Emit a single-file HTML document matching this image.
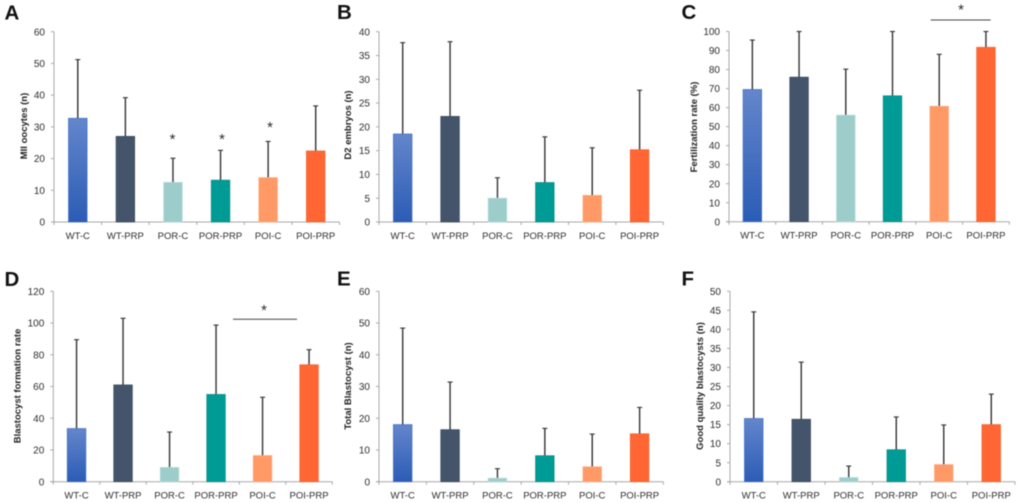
<!DOCTYPE html>
<html lang="en">
<head>
<meta charset="utf-8">
<title>Outcome bar charts</title>
<style>
html,body{margin:0;padding:0;background:#fff;width:1020px;height:503px;overflow:hidden}
svg{display:block;filter:blur(0.4px)}
text{font-family:"Liberation Sans",sans-serif}
</style>
</head>
<body>
<svg id="figure" xmlns="http://www.w3.org/2000/svg" width="1020" height="503" viewBox="0 0 1020 503">
<defs>
<linearGradient id="blueGrad" x1="0" y1="0" x2="0" y2="1">
<stop offset="0" stop-color="#6486cb"/>
<stop offset="1" stop-color="#2b5cb6"/>
</linearGradient>
</defs>
</svg>
<script>
const categories = ['WT-C', 'WT-PRP', 'POR-C', 'POR-PRP', 'POI-C', 'POI-PRP'];

const meansA = [32.7, 27, 12.5, 13.2, 14, 22.4];
const errorTopsA = [51.2, 39.2, 20.1, 22.6, 25.4, 36.6];
const ticksA = [0, 10, 20, 30, 40, 50, 60];

const meansB = [18.5, 22.2, 5, 8.3, 5.6, 15.2];
const errorTopsB = [37.7, 37.9, 9.3, 17.9, 15.6, 27.7];
const ticksB = [0, 5, 10, 15, 20, 25, 30, 35, 40];

const meansC = [69.5, 76, 56, 66.2, 60.7, 91.7];
const errorTopsC = [95.5, 100, 80.2, 100, 88, 100];
const ticksC = [0, 10, 20, 30, 40, 50, 60, 70, 80, 90, 100];

const meansD = [33.5, 61, 9, 55, 16.5, 73.7];
const errorTopsD = [89.5, 103, 31.3, 98.7, 53.2, 83.2];
const ticksD = [0, 20, 40, 60, 80, 100, 120];

const meansE = [18, 16.4, 1.1, 8.2, 4.7, 15.1];
const errorTopsE = [48.4, 31.4, 4.1, 16.8, 15, 23.4];
const ticksE = [0, 10, 20, 30, 40, 50, 60];

const meansF = [16.6, 16.4, 1.1, 8.4, 4.5, 15];
const errorTopsF = [44.6, 31.4, 4.1, 17, 14.9, 23];
const ticksF = [0, 5, 10, 15, 20, 25, 30, 35, 40, 45, 50];

const barFills = ['url(#blueGrad)', '#44546a', '#9ccdcb', '#009b95', '#ff9966', '#ff6633'];
const barEdges = ['#3f6fc8', '#3b4a60', '#b5dcda', '#0a8f8a', '#ffab80', '#f4622e'];

const svg = document.getElementById('figure');
const NS = 'http://www.w3.org/2000/svg';

function make(parent, tag, attrs, content) {
  const el = document.createElementNS(NS, tag);
  for (const k in attrs) el.setAttribute(k, attrs[k]);
  if (content !== undefined) el.textContent = content;
  parent.appendChild(el);
  return el;
}

function drawPanel(p) {
  const g = make(svg, 'g', {});
  
  

  const top = p.ticks[p.ticks.length - 1];
  const yScale = v => p.bottom - (v / top) * (p.bottom - p.top);
  const band = (p.right - p.left) / categories.length;
  const xScale = i => p.left + band * (i + 0.5);

  const letter = make(g, 'text', {x: p.letterX, y: p.letterY, 'font-size': 20.5, 'font-weight': 'bold', fill: '#111'}, p.id);
  
  

  const yAxis = make(g, 'line', {x1: p.left, x2: p.left, y1: p.top, y2: p.bottom, stroke: '#a8a8a8', 'stroke-width': 1});
  
  

  const xAxis = make(g, 'line', {x1: p.left - 3, x2: p.right, y1: p.bottom, y2: p.bottom, stroke: '#a8a8a8', 'stroke-width': 1});
  
  

  p.ticks.forEach(t => {
    const y = yScale(t);
    const mark = make(g, 'line', {x1: p.left - 3, x2: p.left, y1: y, y2: y, stroke: '#a8a8a8', 'stroke-width': 1});
    
    
    const label = make(g, 'text', {x: p.left - 9, y: y + 3.6, 'font-size': 10, 'text-anchor': 'end', fill: '#2d2d2d'}, t);
    
    
  });

  for (let i = 0; i <= categories.length; i++) {
    const x = p.left + band * i;
    const mark = make(g, 'line', {x1: x, x2: x, y1: p.bottom, y2: p.bottom + 3, stroke: '#a8a8a8', 'stroke-width': 1});
    
    
  }

  categories.forEach((c, i) => {
    const cx = xScale(i);
    const yTop = yScale(p.means[i]);
    const yErr = yScale(p.errors[i]);

    const err = make(g, 'line', {x1: cx, x2: cx, y1: yErr, y2: yTop, stroke: '#333', 'stroke-width': 1.4});
    
    
    const cap = make(g, 'line', {x1: cx - 2.5, x2: cx + 2.5, y1: yErr, y2: yErr, stroke: '#333', 'stroke-width': 1.1});
    
    

    const bar = make(g, 'rect', {x: cx - 9.3, y: yTop, width: 18.6, height: p.bottom - yTop, fill: barFills[i], stroke: barEdges[i], 'stroke-width': 0.7});
    
    

    const label = make(g, 'text', {x: cx, y: p.bottom + 17, 'font-size': 9.5, 'text-anchor': 'middle', fill: '#2d2d2d'}, c);
    
    
  });

  const title = make(g, 'text', {
    x: 0, y: 0, 'font-size': 9.5, 'font-weight': 'bold', 'text-anchor': 'middle', fill: '#222',
    transform: 'translate(' + p.titleX + ',' + p.titleY + ') rotate(-90)'
  }, p.title);
  
  

  (p.stars || []).forEach(s => {
    const star = make(g, 'text', {x: s[0], y: s[1] + 7, 'font-size': 15, 'text-anchor': 'middle', fill: '#2d2d2d'}, '*');
    
    
  });

  if (p.bracket) {
    const b = make(g, 'line', {x1: p.bracket[0], x2: p.bracket[1], y1: p.bracket[2], y2: p.bracket[2], stroke: '#444', 'stroke-width': 1});
    
    
  }
}

drawPanel({id: 'A', means: meansA, errors: errorTopsA, ticks: ticksA, title: 'MII oocytes (n)',
  left: 54, right: 339.5, top: 31.7, bottom: 222, letterX: 4.5, letterY: 19.5, titleX: 27, titleY: 126,
  stars: [[172.5, 137], [222, 137], [270, 125]]});

drawPanel({id: 'B', means: meansB, errors: errorTopsB, ticks: ticksB, title: 'D2 embryos (n)',
  left: 379, right: 663.3, top: 31.7, bottom: 222, letterX: 337, letterY: 19, titleX: 351, titleY: 125});

drawPanel({id: 'C', means: meansC, errors: errorTopsC, ticks: ticksC, title: 'Fertilization rate (%)',
  left: 729, right: 1009.3, top: 31.5, bottom: 221.7, letterX: 681.5, letterY: 19, titleX: 697, titleY: 127,
  stars: [[961, 7.5]], bracket: [930.7, 990.7, 20]});

drawPanel({id: 'D', means: meansD, errors: errorTopsD, ticks: ticksD, title: 'Blastocyst formation rate',
  left: 53.3, right: 332.3, top: 291.3, bottom: 481.7, letterX: 4.5, letterY: 286, titleX: 20.5, titleY: 386,
  stars: [[264, 308]], bracket: [233, 297, 319.3]});

drawPanel({id: 'E', means: meansE, errors: errorTopsE, ticks: ticksE, title: 'Total Blastocyst  (n)',
  left: 379, right: 663.3, top: 291.3, bottom: 481.7, letterX: 337, letterY: 285.5, titleX: 351, titleY: 386});

drawPanel({id: 'F', means: meansF, errors: errorTopsF, ticks: ticksF, title: 'Good quality blastocysts  (n)',
  left: 730, right: 1015, top: 291.3, bottom: 481.7, letterX: 681.5, letterY: 285.5, titleX: 703, titleY: 386});
</script>
</body>
</html>
